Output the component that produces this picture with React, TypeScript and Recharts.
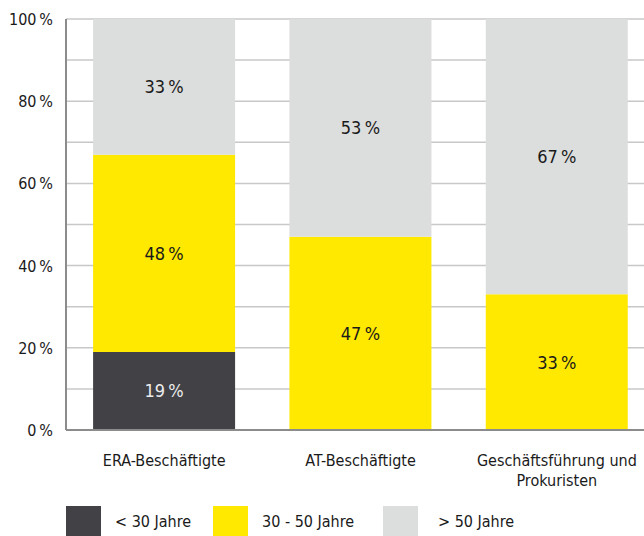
import React from 'react';
import {
  BarChart,
  Bar,
  XAxis,
  YAxis,
  CartesianGrid,
  Legend,
  LabelList,
} from 'recharts';

// groups on the x axis
const categories = ['ERA-Beschäftigte', 'AT-Beschäftigte', 'Geschäftsführung und Prokuristen'];

// share per age group, in percent
const under30 = [19, 0, 0];
const from30to50 = [48, 47, 33];
const over50 = [33, 53, 67];

const yTicks = [0, 10, 20, 30, 40, 50, 60, 70, 80, 90, 100];

const seriesNames = ['< 30 Jahre', '30 - 50 Jahre', '> 50 Jahre'];
const COLORS = ['#414146', '#ffe900', '#dcdddd'];

const FONT = '"Liberation Sans Narrow", "DejaVu Sans Condensed", "Open Sans", sans-serif';

const data = categories.map((name, i) => ({
  name,
  a: under30[i],
  b: from30to50[i],
  c: over50[i],
}));

const pct = (v: any) => (v ? `${v}\u202F%` : '');

// y tick: only every 20 %
function YTick(props: any) {
  const { x, y, payload } = props;
  if (payload.value % 20 !== 0) return null;
  return (
    <text x={x} y={y} dy={6} textAnchor="end" fontFamily={FONT} fontSize={16} fill="#1a1a1a">
      {`${payload.value}\u202F%`}
    </text>
  );
}

// x tick with manual line break for the long label
function XTick(props: any) {
  const { x, y, payload } = props;
  const lines =
    payload.value === 'Geschäftsführung und Prokuristen'
      ? ['Geschäftsführung und', 'Prokuristen']
      : [payload.value];
  return (
    <text x={x} y={y} textAnchor="middle" fontFamily={FONT} fontSize={16} fill="#1a1a1a">
      {lines.map((l, i) => (
        <tspan key={i} x={x} dy={i === 0 ? 28 : 20}>
          {l}
        </tspan>
      ))}
    </text>
  );
}

// legend: boxes plus labels at fixed spots
function LegendContent() {
  const spots = [66, 213, 383];
  const textGap = [14, 14, 20];
  return (
    <div style={{ position: 'relative', width: 644, height: 50, fontFamily: FONT, fontSize: 16, color: '#1a1a1a' }}>
      {seriesNames.map((n, i) => (
        <React.Fragment key={n}>
          <div
            style={{
              position: 'absolute',
              left: spots[i],
              top: 20,
              width: 35,
              height: 30,
              background: COLORS[i],
            }}
          />
          <div style={{ position: 'absolute', left: spots[i] + 35 + textGap[i], top: 26, lineHeight: '20px', whiteSpace: 'nowrap' }}>
            {n}
          </div>
        </React.Fragment>
      ))}
    </div>
  );
}

export default function App(): JSX.Element {
  return (
    <div style={{ position: 'absolute', left: 0, top: 0, width: 644, height: 536, background: '#fff', overflow: 'hidden' }}>
      <BarChart
        width={644}
        height={536}
        data={data}
        margin={{ top: 19, right: -11, left: 0, bottom: 0 }}
        barCategoryGap="13.8%"
      >
        <CartesianGrid vertical={false} stroke="#c8c8c8" strokeWidth={1.5} />
        <XAxis
          dataKey="name"
          height={56}
          tickLine={false}
          axisLine={{ stroke: '#8c8c8c', strokeWidth: 2 }}
          tick={<XTick />}
          interval={0}
        />
        <YAxis
          width={66}
          domain={[0, 100]}
          ticks={yTicks}
          interval={0}
          tickLine={false}
          tickSize={0}
          tickMargin={13}
          axisLine={{ stroke: '#8c8c8c', strokeWidth: 2 }}
          tick={<YTick />}
        />
        <Legend verticalAlign="bottom" height={50} content={<LegendContent />} wrapperStyle={{ left: 0, width: 644 }} />
        <Bar dataKey="a" stackId="s" fill={COLORS[0]} name={seriesNames[0]} isAnimationActive={false}>
          <LabelList dataKey="a" position="center" formatter={pct} fill="#ececec" fontFamily={FONT} fontSize={18} />
        </Bar>
        <Bar dataKey="b" stackId="s" fill={COLORS[1]} name={seriesNames[1]} isAnimationActive={false}>
          <LabelList dataKey="b" position="center" formatter={pct} fill="#1a1a1a" fontFamily={FONT} fontSize={18} />
        </Bar>
        <Bar dataKey="c" stackId="s" fill={COLORS[2]} name={seriesNames[2]} isAnimationActive={false}>
          <LabelList dataKey="c" position="center" formatter={pct} fill="#1a1a1a" fontFamily={FONT} fontSize={18} />
        </Bar>
      </BarChart>
    </div>
  );
}
